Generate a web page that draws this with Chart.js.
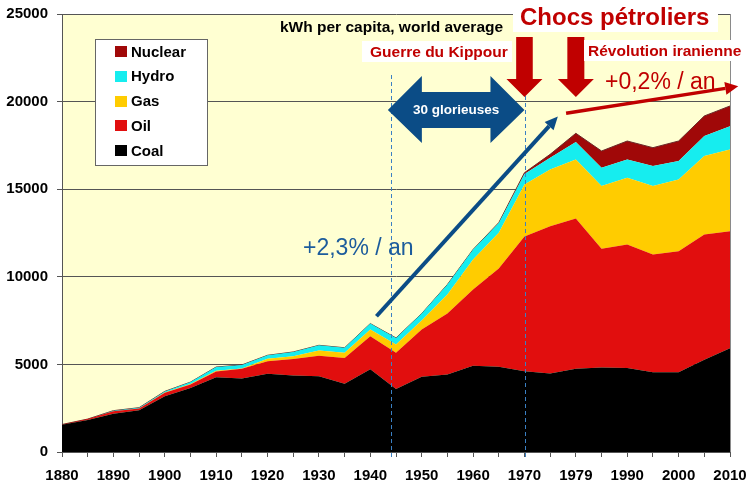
<!DOCTYPE html>
<html><head><meta charset="utf-8">
<script src="https://cdn.jsdelivr.net/npm/chart.js@4"></script>
<style>html,body{margin:0;padding:0;background:#fff}canvas{display:block}</style>
</head><body>
<canvas id="c" width="749" height="488"></canvas>
<script>
// ---- data (kWh per capita, world average) ----
const years = ['1880','1885','1890','1895','1900','1905','1910','1915','1920','1925','1930','1935','1940','1945','1950','1955','1960','1965','1970','1975','1980','1985','1990','1995','2000','2005','2010'];
const tickLabels = ['1880','','1890','','1900','','1910','','1920','','1930','','1940','','1950','','1960','','1970','','1979','','1990','','2000','','2010'];
const coal    = [1550,1830,2190,2380,3180,3650,4260,4200,4460,4360,4320,3900,4720,3600,4300,4430,4930,4860,4610,4480,4750,4830,4790,4550,4550,5270,5920];
const oil     = [20,50,140,100,200,200,340,550,720,950,1180,1470,1890,2060,2690,3470,4340,5610,7690,8410,8580,6770,7060,6720,6910,7150,6680];
const gas     = [0,0,0,10,20,30,40,20,140,150,300,290,380,470,520,1090,1720,2040,2970,3240,3370,3580,3810,3910,4100,4470,4670];
const hydro   = [0,0,30,40,60,110,210,200,200,250,290,290,340,380,390,570,570,560,600,670,990,1050,1040,1140,1050,1140,1330];
const nuclear = [0,0,0,0,0,0,0,0,0,0,0,0,0,0,0,0,0,20,70,190,500,950,1050,1050,1140,1150,1150];
const yTicks  = [0,5000,10000,15000,20000,25000];
const seriesNames  = ['Coal','Oil','Gas','Hydro','Nuclear'];
const seriesColors = ['#000000','#E10E0E','#FFCC00','#16EDEF','#A00808'];

const FONT = "'Liberation Sans', Arial, sans-serif";
const RED = '#C00000', BLUE = '#0B4C86';
const AREA = { left: 62, top: 14, right: 730, bottom: 452 };

const datasets = [coal, oil, gas, hydro, nuclear].map((d, i) => ({
  label: seriesNames[i],
  data: d,
  backgroundColor: seriesColors[i],
  borderColor: i === 4 ? '#6a2a2a' : 'rgba(0,0,0,0)',
  borderWidth: i === 4 ? 1 : 0,
  fill: i === 0 ? 'origin' : '-1',
  pointRadius: 0,
  tension: 0
}));

function arrowLine(ctx, x1, y1, x2, y2, lw, headLen, headW, color) {
  const ang = Math.atan2(y2 - y1, x2 - x1);
  const bx = x2 - Math.cos(ang) * headLen, by = y2 - Math.sin(ang) * headLen;
  ctx.strokeStyle = color; ctx.fillStyle = color; ctx.lineWidth = lw; ctx.lineCap = 'butt';
  ctx.beginPath(); ctx.moveTo(x1, y1); ctx.lineTo(bx, by); ctx.stroke();
  const px = -Math.sin(ang) * headW / 2, py = Math.cos(ang) * headW / 2;
  ctx.beginPath(); ctx.moveTo(x2, y2); ctx.lineTo(bx + px, by + py); ctx.lineTo(bx - px, by - py); ctx.closePath(); ctx.fill();
}
function downArrow(ctx, cx, top, headY, tip, sh, hh, color) {
  ctx.fillStyle = color;
  ctx.beginPath();
  ctx.moveTo(cx - sh, top); ctx.lineTo(cx + sh, top); ctx.lineTo(cx + sh, headY);
  ctx.lineTo(cx + hh, headY); ctx.lineTo(cx, tip); ctx.lineTo(cx - hh, headY);
  ctx.lineTo(cx - sh, headY); ctx.closePath(); ctx.fill();
}

const deco = {
  id: 'deco',
  beforeDraw(chart) {
    const { ctx, chartArea: a } = chart;
    ctx.save();
    ctx.fillStyle = '#fff'; ctx.fillRect(0, 0, chart.width, chart.height);
    ctx.fillStyle = '#FFFFD2'; ctx.fillRect(a.left, a.top, a.right - a.left, a.bottom - a.top);
    ctx.restore();
  },
  afterDraw(chart) {
    const { ctx, chartArea: a } = chart;
    const xs = chart.scales.x, ys = chart.scales.y;
    const X = yr => xs.getPixelForValue((yr - 1880) / 5);
    const Y = v => ys.getPixelForValue(v);
    ctx.save();
    // right border of plot
    ctx.strokeStyle = '#8a8a8a'; ctx.lineWidth = 1;
    ctx.beginPath(); ctx.moveTo(Math.round(a.right) + 0.5, a.top); ctx.lineTo(Math.round(a.right) + 0.5, a.bottom); ctx.stroke();

    // dashed period lines
    ctx.setLineDash([4, 3]); ctx.strokeStyle = '#3A80C4'; ctx.lineWidth = 1;
    [1944, 1970.2].forEach(yr => {
      const x = Math.round(X(yr)) + 0.5;
      ctx.beginPath(); ctx.moveTo(x, 75); ctx.lineTo(x, a.bottom + 8); ctx.stroke();
    });
    ctx.setLineDash([]);

    // 30 glorieuses double arrow
    const L = X(1944) - 3, R = X(1970), cy = 110;
    ctx.fillStyle = BLUE;
    ctx.beginPath();
    ctx.moveTo(L, cy); ctx.lineTo(L + 34, cy - 34); ctx.lineTo(L + 34, cy - 18);
    ctx.lineTo(R - 34, cy - 18); ctx.lineTo(R - 34, cy - 34); ctx.lineTo(R, cy);
    ctx.lineTo(R - 34, cy + 33); ctx.lineTo(R - 34, cy + 18); ctx.lineTo(L + 34, cy + 18);
    ctx.lineTo(L + 34, cy + 33); ctx.closePath(); ctx.fill();
    ctx.fillStyle = '#fff'; ctx.font = 'bold 13.5px ' + FONT; ctx.textAlign = 'center'; ctx.textBaseline = 'middle';
    ctx.fillText('30 glorieuses', (L + R) / 2, cy);

    // trend arrows
    arrowLine(ctx, X(1941.2), Y(7750), X(1976.5), Y(19150), 4, 13, 12, BLUE);
    arrowLine(ctx, X(1978.1), Y(19330), X(2011.6), Y(20870), 3.5, 13, 13, RED);

    // oil shock arrows
    downArrow(ctx, X(1970), 37, 79, 97, 8.3, 18, RED);
    downArrow(ctx, X(1980), 37, 79, 97, 8.5, 18, RED);

    // white label boxes
    ctx.fillStyle = '#fff';
    ctx.fillRect(513, 0, 205, 32);
    ctx.fillRect(362, 41, 150, 21);
    ctx.fillRect(584, 40, 165, 21);

    ctx.textAlign = 'left'; ctx.textBaseline = 'alphabetic';
    ctx.fillStyle = '#000'; ctx.font = 'bold 15.5px ' + FONT;
    ctx.fillText('kWh per capita, world average', 280, 32);
    ctx.fillStyle = RED; ctx.font = 'bold 24px ' + FONT;
    ctx.fillText('Chocs pétroliers', 520, 25);
    ctx.font = 'bold 15.5px ' + FONT;
    ctx.fillText('Guerre du Kippour', 370, 57);
    ctx.fillText('Révolution iranienne', 588, 56);
    ctx.font = '23px ' + FONT;
    ctx.fillText('+0,2% / an', 605, 89);
    ctx.fillStyle = '#1C5C9C';
    ctx.fillText('+2,3% / an', 303, 255);

    // legend
    ctx.fillStyle = '#fff'; ctx.fillRect(95, 39, 112, 126);
    ctx.strokeStyle = '#666'; ctx.lineWidth = 1; ctx.strokeRect(95.5, 39.5, 112, 126);
    ctx.font = 'bold 15px ' + FONT; ctx.textBaseline = 'middle';
    const ds = chart.data.datasets.slice().reverse();
    ds.forEach((d, i) => {
      const yy = 52 + i * 24.8;
      ctx.fillStyle = d.backgroundColor; ctx.fillRect(115, Math.round(yy - 6), 12, 11);
      ctx.fillStyle = '#000'; ctx.fillText(d.label, 131, yy + 0.5);
    });
    ctx.restore();
  }
};

const chart = new Chart(document.getElementById('c'), {
  type: 'line',
  data: { labels: years, datasets },
  options: {
    responsive: false, animation: false, devicePixelRatio: 1,
    layout: { padding: { top: AREA.top, right: 749 - AREA.right, left: 0, bottom: 0 } },
    plugins: { legend: { display: false }, tooltip: { enabled: false } },
    scales: {
      x: {
        type: 'category', offset: false,
        grid: { drawOnChartArea: false, drawTicks: true, tickLength: 5, color: '#555' },
        border: { color: '#555' },
        ticks: { autoSkip: false, maxRotation: 0, color: '#000', padding: 10,
                 font: { family: FONT, size: 15, weight: 'bold' },
                 callback: (v, i) => tickLabels[i] },
        afterFit: s => { s.height = 488 - AREA.bottom; s.paddingLeft = 0; s.paddingRight = 0; }
      },
      y: {
        stacked: true, min: 0, max: 25000,
        afterBuildTicks: s => { s.ticks = yTicks.map(v => ({ value: v })); },
        grid: { color: '#555', tickLength: 5 },
        border: { color: '#555' },
        ticks: { color: '#000', padding: 9, font: { family: FONT, size: 15, weight: 'bold' },
                 callback: v => String(v) },
        afterFit: s => { s.width = AREA.left; s.paddingTop = 0; s.paddingBottom = 0; }
      }
    }
  },
  plugins: [deco]
});
// fine-tune so the plot area lands where the reference has it
(function () {
  const ca = chart.chartArea, p = chart.options.layout.padding;
  const np = {
    top: Math.max(0, p.top + (AREA.top - ca.top)),
    right: Math.max(0, p.right + (ca.right - AREA.right)),
    left: Math.max(0, p.left + (AREA.left - ca.left)),
    bottom: Math.max(0, p.bottom + (ca.bottom - AREA.bottom))
  };
  if (np.top !== p.top || np.right !== p.right || np.left !== p.left || np.bottom !== p.bottom) {
    chart.options.layout.padding = np;
    chart.update();
  }
})();
</script>
</body></html>
